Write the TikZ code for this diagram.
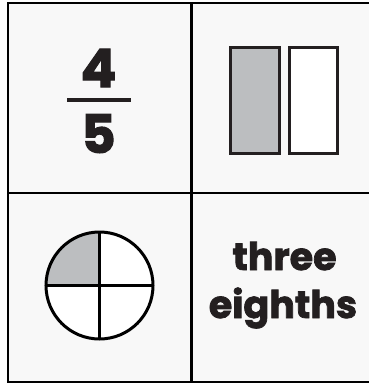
\documentclass[tikz,border=0pt]{standalone}
\usepackage{fontspec}
\newfontfamily\cardfont{Poppins}[BoldFeatures={FakeBold=2}]
\usetikzlibrary{positioning}
\definecolor{cellbg}{HTML}{F8F8F8}
\definecolor{ink}{HTML}{231F20}
\definecolor{partgrey}{HTML}{BCBEC0}

\begin{document}
\begin{tikzpicture}[x=1pt, y=-1pt,
  grid/.style={draw=black, line width=2.6pt},
  part/.style={draw=ink, line width=3pt},
  num/.style={anchor=base, inner sep=0pt, text=ink,
              font=\cardfont\bfseries\fontsize{53}{53}\selectfont},
  word/.style={anchor=base, inner sep=0pt, text=ink,
               font=\cardfont\bfseries\fontsize{38}{38}\selectfont}
]
  \useasboundingbox (0,0) rectangle (369,383);

  % card background and grid
  \fill[cellbg] (8,3) rectangle (376,382);
  \draw[grid] (8,3) rectangle (376,382);
  \draw[grid] (191.7,3) -- (191.7,382);
  \draw[grid] (8,193) -- (376,193);

  % fraction
  \node[num] (top) at (98.5,87) {4};
  \node[num] (bot) at (98.5,153) {5};
  \draw[ink, line width=4pt] (67,100) -- (131,100);

  % bar model
  \draw[part, fill=partgrey] (230.5,47.5) rectangle (279.5,153.5);
  \draw[part, fill=white] (289.5,47.5) rectangle (337.5,153.5);

  % circle model
  \fill[white] (99.5,285.5) circle (53.5);
  \fill[partgrey] (99.5,285.5) -- (46,285.5) arc[start angle=180, end angle=270, radius=53.5] -- cycle;
  \draw[part, black] (99.5,285.5) circle (53.5);
  \draw[part, black] (99.5,232) -- (99.5,339);
  \draw[part, black] (46,285.5) -- (153,285.5);

  % word form
  \node[word] (w1) at (284.5,270) {three};
  \node[word] (w2) at (283,318) {eighths};
\end{tikzpicture}
\end{document}
